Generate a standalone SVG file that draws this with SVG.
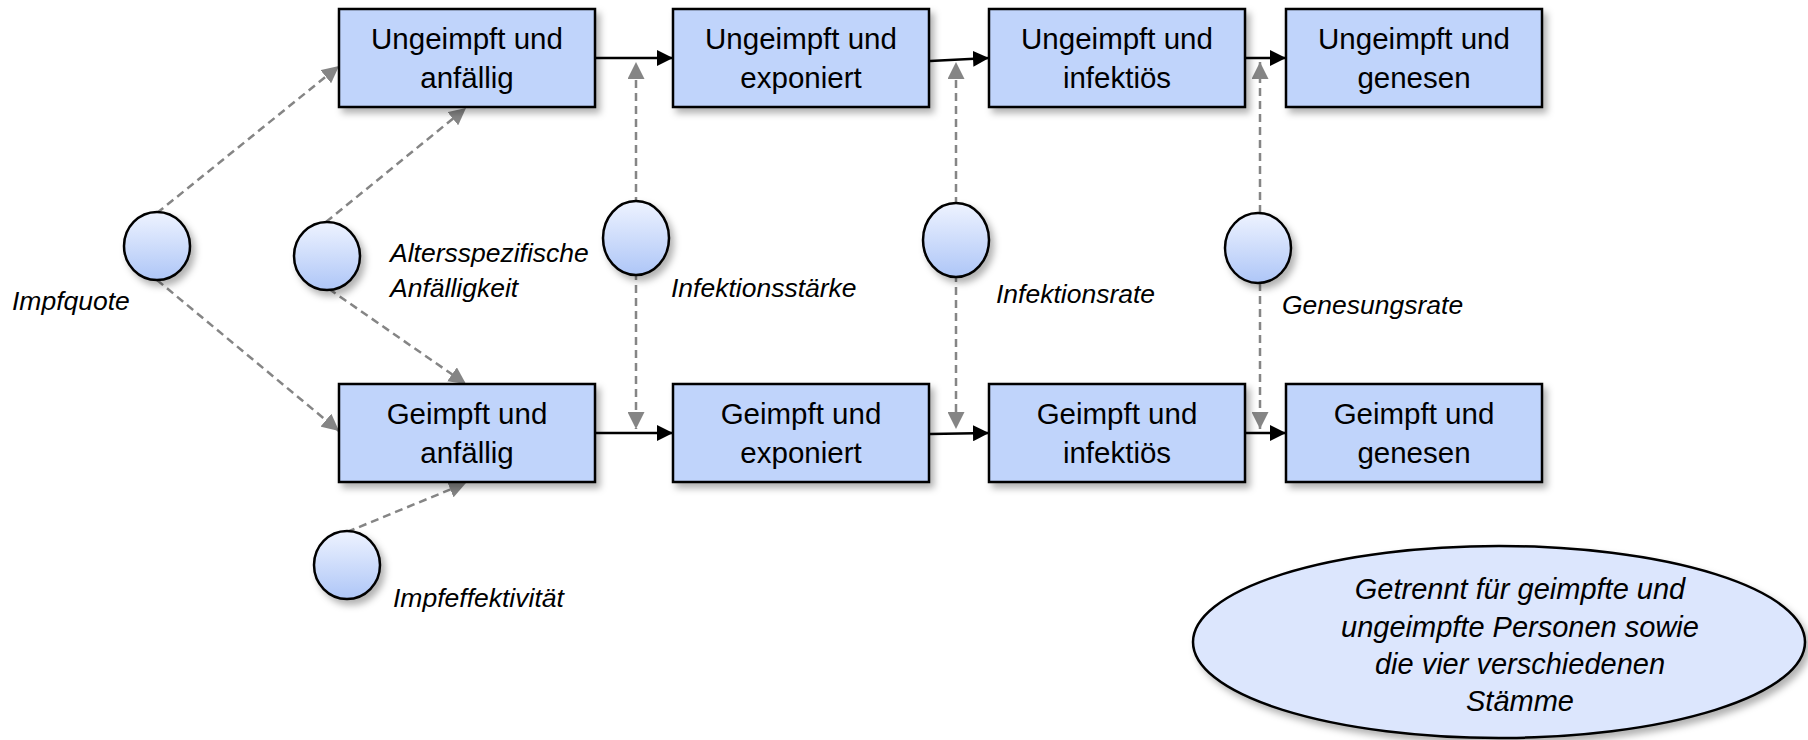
<svg xmlns="http://www.w3.org/2000/svg" width="1808" height="740" viewBox="0 0 1808 740">
<defs>
<style>
.box{fill:#c0d4fb;stroke:#000;stroke-width:2.5;filter:url(#sh)}
.bt{font-family:"Liberation Sans",Arial,sans-serif;font-size:29.5px;fill:#000;text-anchor:middle}
.lbl{font-family:"Liberation Sans",Arial,sans-serif;font-size:26.5px;font-style:italic;fill:#000}
.nt{font-family:"Liberation Sans",Arial,sans-serif;font-size:29px;font-style:italic;fill:#000;text-anchor:middle}
.circ{fill:url(#cg);stroke:#000;stroke-width:2.5;filter:url(#sh)}
.flow{stroke:#000;stroke-width:2.5;fill:none;marker-end:url(#ab)}
.info{stroke:#858585;stroke-width:2.5;fill:none;stroke-dasharray:8 5;marker-end:url(#ag)}
</style>
<linearGradient id="cg" x1="0" y1="0" x2="0" y2="1">
<stop offset="0" stop-color="#eef3ff"/>
<stop offset="1" stop-color="#aec6f7"/>
</linearGradient>
<filter id="sh" x="-20%" y="-20%" width="150%" height="150%">
<feDropShadow dx="4" dy="5" stdDeviation="3.5" flood-color="#000" flood-opacity="0.3"/>
</filter>
<marker id="ab" viewBox="0 0 10 10" refX="10" refY="5" markerWidth="16" markerHeight="16" markerUnits="userSpaceOnUse" orient="auto">
<path d="M0,0 L10,5 L0,10 z" fill="#000"/>
</marker>
<marker id="ag" viewBox="0 0 10 10" refX="10" refY="5" markerWidth="17" markerHeight="17" markerUnits="userSpaceOnUse" orient="auto">
<path d="M0,0 L10,5 L0,10 z" fill="#858585"/>
</marker>
</defs>
<rect width="1808" height="740" fill="#fff"/>

<g id="connectors">
<line class="flow" x1="596" y1="58" x2="673" y2="58"/>
<line class="flow" x1="930" y1="61" x2="989" y2="58"/>
<line class="flow" x1="1246" y1="58" x2="1286" y2="58"/>
<line class="flow" x1="596" y1="433" x2="673" y2="433"/>
<line class="flow" x1="930" y1="434" x2="989" y2="433"/>
<line class="flow" x1="1246" y1="433" x2="1286" y2="433"/>
<line class="info" x1="157" y1="213" x2="339" y2="66"/>
<line class="info" x1="157" y1="280" x2="339" y2="431"/>
<line class="info" x1="326" y1="222" x2="466" y2="108"/>
<line class="info" x1="329" y1="289" x2="466" y2="384"/>
<line class="info" x1="347" y1="532" x2="466" y2="483"/>
<line class="info" x1="636" y1="205" x2="636" y2="62"/>
<line class="info" x1="636" y1="272" x2="636" y2="429"/>
<line class="info" x1="956" y1="205" x2="956" y2="62"/>
<line class="info" x1="956" y1="274" x2="956" y2="429"/>
<line class="info" x1="1260" y1="213" x2="1260" y2="62"/>
<line class="info" x1="1260" y1="283" x2="1260" y2="429"/>
</g>

<g id="u_anf"><rect class="box" x="339" y="9" width="256" height="98"/><text class="bt" x="467" y="49">Ungeimpft und</text><text class="bt" x="467" y="88">anfällig</text></g>
<g id="u_exp"><rect class="box" x="673" y="9" width="256" height="98"/><text class="bt" x="801" y="49">Ungeimpft und</text><text class="bt" x="801" y="88">exponiert</text></g>
<g id="u_inf"><rect class="box" x="989" y="9" width="256" height="98"/><text class="bt" x="1117" y="49">Ungeimpft und</text><text class="bt" x="1117" y="88">infektiös</text></g>
<g id="u_gen"><rect class="box" x="1286" y="9" width="256" height="98"/><text class="bt" x="1414" y="49">Ungeimpft und</text><text class="bt" x="1414" y="88">genesen</text></g>

<g id="g_anf"><rect class="box" x="339" y="384" width="256" height="98"/><text class="bt" x="467" y="424">Geimpft und</text><text class="bt" x="467" y="463">anfällig</text></g>
<g id="g_exp"><rect class="box" x="673" y="384" width="256" height="98"/><text class="bt" x="801" y="424">Geimpft und</text><text class="bt" x="801" y="463">exponiert</text></g>
<g id="g_inf"><rect class="box" x="989" y="384" width="256" height="98"/><text class="bt" x="1117" y="424">Geimpft und</text><text class="bt" x="1117" y="463">infektiös</text></g>
<g id="g_gen"><rect class="box" x="1286" y="384" width="256" height="98"/><text class="bt" x="1414" y="424">Geimpft und</text><text class="bt" x="1414" y="463">genesen</text></g>

<g id="impfquote"><ellipse class="circ" cx="157" cy="246" rx="33" ry="34"/><text class="lbl" x="12" y="310">Impfquote</text></g>
<g id="alter"><ellipse class="circ" cx="327" cy="256" rx="33" ry="34"/><text class="lbl" x="390" y="262">Altersspezifische</text><text class="lbl" x="390" y="297">Anfälligkeit</text></g>
<g id="infstaerke"><ellipse class="circ" cx="636" cy="238" rx="33" ry="37"/><text class="lbl" x="671" y="297">Infektionsstärke</text></g>
<g id="infrate"><ellipse class="circ" cx="956" cy="240" rx="33" ry="37"/><text class="lbl" x="996" y="303">Infektionsrate</text></g>
<g id="genrate"><ellipse class="circ" cx="1258" cy="248" rx="33" ry="35"/><text class="lbl" x="1282" y="314">Genesungsrate</text></g>
<g id="impfeff"><ellipse class="circ" cx="347" cy="565" rx="33" ry="34"/><text class="lbl" x="393" y="607">Impfeffektivität</text></g>

<g id="note"><ellipse class="box" cx="1499" cy="642" rx="306" ry="96" style="fill:#dce6fd"/>
<text class="nt" x="1520" y="599">Getrennt für geimpfte und</text>
<text class="nt" x="1520" y="637">ungeimpfte Personen sowie</text>
<text class="nt" x="1520" y="674">die vier verschiedenen</text>
<text class="nt" x="1520" y="711">Stämme</text>
</g>
</svg>
